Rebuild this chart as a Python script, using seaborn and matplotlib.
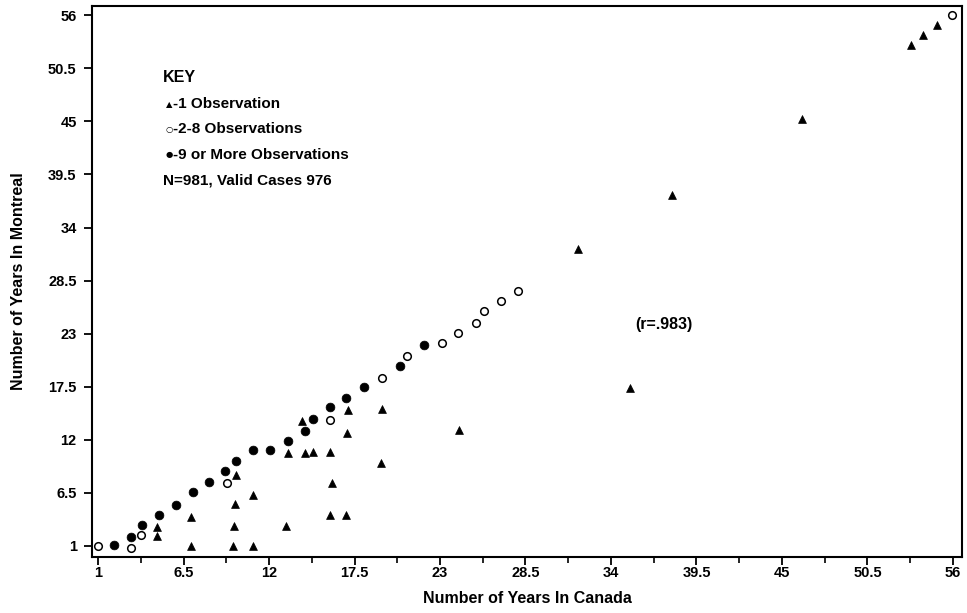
import matplotlib
matplotlib.use("Agg")
import matplotlib.pyplot as plt
from matplotlib.ticker import FixedLocator
import seaborn as sns
import pandas as pd

# years in Canada (x) vs years in Montreal (y)
one_x = [4.8, 4.8, 7.0, 7.0, 9.85, 9.8, 9.75, 9.7, 10.95, 10.95, 13.1, 13.25,
         14.3, 14.15, 14.85, 15.9, 16.05, 15.95, 16.95, 17.05, 17.0, 19.3,
         19.2, 24.2, 31.9, 35.2, 37.95, 46.3, 53.3, 54.05, 55.0]
one_y = [3.0, 2.0, 4.0, 1.0, 8.35, 5.35, 3.05, 1.0, 6.3, 1.0, 3.05, 10.65,
         10.65, 13.95, 10.75, 10.75, 7.55, 4.2, 4.2, 15.1, 12.7, 15.15,
         9.6, 13.05, 31.8, 17.4, 37.4, 45.2, 52.9, 53.95, 55.0]

few_x = [1.0, 3.15, 3.75, 9.3, 15.9, 19.25, 20.9, 23.1, 24.15, 25.3, 25.85,
         26.95, 28.0, 55.95]
few_y = [0.95, 0.8, 2.1, 7.55, 14.1, 18.4, 20.7, 22.0, 23.05, 24.15, 25.3,
         26.4, 27.45, 56.0]

many_x = [2.05, 3.1, 3.8, 4.9, 6.0, 7.1, 8.15, 9.2, 9.85, 10.95, 12.05, 13.2,
          14.3, 14.85, 15.9, 16.95, 18.1, 20.4, 22.0]
many_y = [1.05, 1.95, 3.15, 4.2, 5.25, 6.6, 7.6, 8.75, 9.8, 10.9, 10.9, 11.9,
          12.9, 14.2, 15.4, 16.35, 17.45, 19.7, 21.85]

tick_vals = [1, 6.5, 12, 17.5, 23, 28.5, 34, 39.5, 45, 50.5, 56]
tick_labels = ["1", "6.5", "12", "17.5", "23", "28.5", "34", "39.5", "45", "50.5", "56"]

key_glyphs = ["\u25b2", "\u25cb", "\u25cf"]
key_texts = ["-1 Observation", "-2-8 Observations", "-9 or More Observations"]
cases_text = "N=981, Valid Cases 976"
r_text = "(r=.983)"

sns.set_style("ticks")
plt.rcParams["font.family"] = ["Liberation Sans", "DejaVu Sans"]
plt.rcParams["font.weight"] = "bold"
plt.rcParams["text.color"] = "black"
plt.rcParams["axes.labelcolor"] = "black"
plt.rcParams["xtick.color"] = "black"
plt.rcParams["ytick.color"] = "black"
plt.rcParams["axes.edgecolor"] = "black"

fig = plt.figure(figsize=(9.67, 6.13), dpi=100)
ax = fig.add_axes([0.0951, 0.0914, 0.8997, 0.8988])

one = pd.DataFrame({"canada": one_x, "montreal": one_y})
few = pd.DataFrame({"canada": few_x, "montreal": few_y})
many = pd.DataFrame({"canada": many_x, "montreal": many_y})

sns.scatterplot(data=one, x="canada", y="montreal", marker="^", s=32,
                color="black", edgecolor="black", linewidth=0.5, ax=ax)
sns.scatterplot(data=few, x="canada", y="montreal", marker="o", s=30,
                facecolor="white", edgecolor="black", linewidth=1.1, ax=ax)
sns.scatterplot(data=many, x="canada", y="montreal", marker="o", s=40,
                color="black", edgecolor="black", linewidth=0.5, ax=ax)

ax.set_xlim(0.61, 56.58)
ax.set_ylim(-0.14, 56.96)
ax.xaxis.set_major_locator(FixedLocator(tick_vals))
ax.set_xticklabels(tick_labels)
ax.xaxis.set_minor_locator(FixedLocator([v + 2.75 for v in tick_vals[:-1]]))
ax.yaxis.set_major_locator(FixedLocator(tick_vals))
ax.set_yticklabels(tick_labels)

for s in ax.spines.values():
    s.set_visible(True)
    s.set_linewidth(1.5)
ax.tick_params(axis="both", which="major", length=6, width=1.3, direction="out",
               labelsize=10.5)
ax.tick_params(axis="x", which="major", pad=0.5)
ax.tick_params(axis="y", which="major", pad=5)
ax.tick_params(axis="x", which="minor", length=4, width=1.2, direction="out")
for lab in ax.get_xticklabels() + ax.get_yticklabels():
    lab.set_fontweight("bold")

ax.set_xlabel("Number of Years In Canada", fontsize=11.5, fontweight="bold", labelpad=8)
ax.set_ylabel("Number of Years In Montreal", fontsize=11.5, fontweight="bold", labelpad=16)

ax.text(0.0816, 0.871, "KEY", transform=ax.transAxes, fontsize=11.5,
        fontweight="bold", va="center", ha="left")
for i, (g, t) in enumerate(zip(key_glyphs, key_texts)):
    yy = 0.822 - i * 0.046
    ax.text(0.0845, yy, g, transform=ax.transAxes, fontsize=6,
            family="DejaVu Sans", va="center", ha="left")
    ax.text(0.0935, yy, t, transform=ax.transAxes, fontsize=11,
            fontweight="bold", va="center", ha="left")
ax.text(0.0816, 0.822 - 3 * 0.046, cases_text, transform=ax.transAxes, fontsize=11,
        fontweight="bold", va="center", ha="left")

ax.text(35.55, 24.0, r_text, fontsize=11.5, fontweight="bold", va="center", ha="left")

fig.savefig("out.png", dpi=100)
